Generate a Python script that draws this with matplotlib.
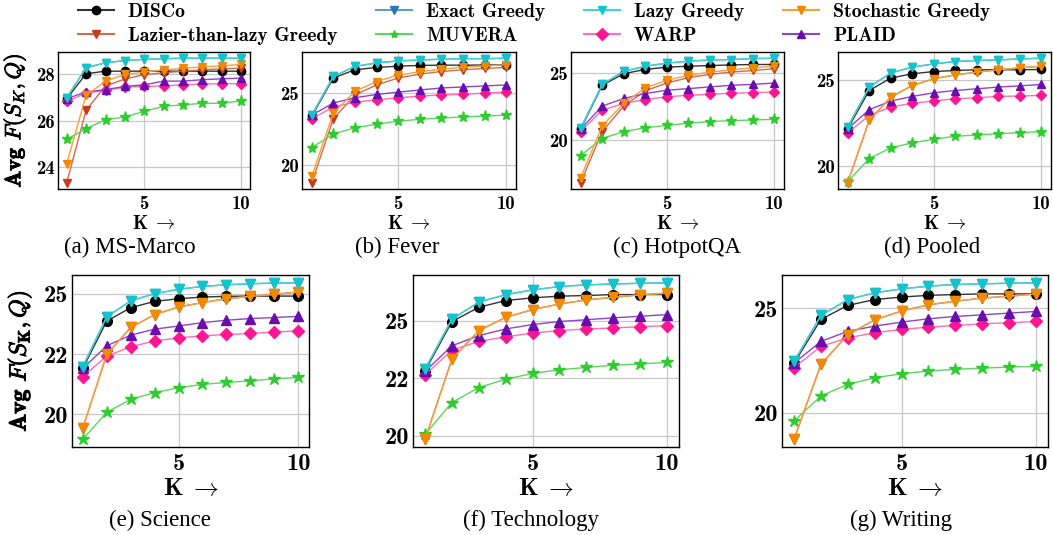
import numpy as np
import matplotlib.pyplot as plt
import matplotlib.patheffects as pe
from matplotlib.lines import Line2D

K = list(range(1, 11))

METHODS = ["DISCo", "Exact Greedy", "Lazier-than-lazy Greedy", "MUVERA",
           "WARP", "PLAID", "Stochastic Greedy", "Lazy Greedy"]
LEGEND_ORDER = ["DISCo", "Lazier-than-lazy Greedy", "Exact Greedy", "MUVERA",
                "Lazy Greedy", "WARP", "Stochastic Greedy", "PLAID"]

# values (Avg F(S_K, Q) for K = 1..10)
msmarco = {
    "DISCo":        [26.95, 28.03, 28.14, 28.14, 28.14, 28.14, 28.14, 28.14, 28.14, 28.14],
    "Exact Greedy": [26.99, 28.29, 28.50, 28.60, 28.65, 28.68, 28.70, 28.70, 28.70, 28.70],
    "Lazy Greedy":  [26.99, 28.29, 28.50, 28.60, 28.65, 28.68, 28.70, 28.70, 28.70, 28.70],
    "Stochastic Greedy":       [24.14, 27.10, 27.70, 28.00, 28.10, 28.20, 28.26, 28.33, 28.37, 28.43],
    "Lazier-than-lazy Greedy": [23.31, 26.45, 27.50, 27.80, 27.99, 28.07, 28.14, 28.20, 28.24, 28.27],
    "PLAID":  [26.95, 27.24, 27.34, 27.48, 27.55, 27.71, 27.71, 27.77, 27.81, 27.84],
    "WARP":   [26.83, 27.19, 27.31, 27.45, 27.48, 27.50, 27.55, 27.58, 27.60, 27.60],
    "MUVERA": [25.19, 25.65, 26.04, 26.16, 26.40, 26.62, 26.68, 26.75, 26.75, 26.86],
}
fever = {
    "DISCo":        [23.38, 26.03, 26.60, 26.76, 26.85, 26.90, 26.92, 26.92, 26.93, 26.94],
    "Exact Greedy": [23.45, 26.14, 26.83, 27.08, 27.21, 27.28, 27.33, 27.37, 27.37, 27.40],
    "Lazy Greedy":  [23.45, 26.14, 26.83, 27.08, 27.21, 27.28, 27.33, 27.37, 27.37, 27.40],
    "Stochastic Greedy":       [19.22, 23.60, 25.11, 25.78, 26.23, 26.46, 26.64, 26.78, 26.87, 26.94],
    "Lazier-than-lazy Greedy": [18.77, 23.20, 24.86, 25.55, 26.03, 26.30, 26.48, 26.60, 26.69, 26.76],
    "PLAID":  [23.45, 24.30, 24.66, 24.89, 25.05, 25.20, 25.34, 25.41, 25.48, 25.55],
    "WARP":   [23.20, 24.02, 24.36, 24.52, 24.66, 24.77, 24.86, 24.90, 24.98, 25.05],
    "MUVERA": [21.21, 22.15, 22.58, 22.83, 23.04, 23.17, 23.26, 23.33, 23.40, 23.45],
}
hotpotqa = {
    "DISCo":        [20.82, 24.11, 24.98, 25.30, 25.47, 25.54, 25.59, 25.64, 25.67, 25.67],
    "Exact Greedy": [20.89, 24.18, 25.15, 25.54, 25.77, 25.92, 26.01, 26.04, 26.11, 26.14],
    "Lazy Greedy":  [20.89, 24.18, 25.15, 25.54, 25.77, 25.92, 26.01, 26.04, 26.11, 26.14],
    "Stochastic Greedy":       [17.18, 21.06, 22.75, 23.91, 24.48, 24.85, 25.10, 25.27, 25.42, 25.54],
    "Lazier-than-lazy Greedy": [16.80, 20.64, 22.55, 23.69, 24.28, 24.68, 24.93, 25.10, 25.22, 25.35],
    "PLAID":  [20.82, 22.55, 23.12, 23.49, 23.74, 23.86, 23.99, 24.11, 24.18, 24.28],
    "WARP":   [20.64, 22.25, 22.75, 23.04, 23.24, 23.37, 23.44, 23.51, 23.56, 23.61],
    "MUVERA": [18.84, 20.12, 20.64, 20.92, 21.11, 21.26, 21.39, 21.46, 21.51, 21.56],
}
pooled = {
    "DISCo":        [22.17, 24.38, 25.10, 25.35, 25.48, 25.54, 25.58, 25.58, 25.58, 25.60],
    "Exact Greedy": [22.27, 24.58, 25.40, 25.73, 25.92, 26.06, 26.12, 26.15, 26.21, 26.25],
    "Lazy Greedy":  [22.27, 24.58, 25.40, 25.73, 25.92, 26.06, 26.12, 26.15, 26.21, 26.25],
    "Stochastic Greedy":       [19.04, 22.65, 24.00, 24.67, 25.06, 25.29, 25.44, 25.58, 25.69, 25.79],
    "Lazier-than-lazy Greedy": [19.04, 22.65, 24.00, 24.67, 25.06, 25.29, 25.44, 25.58, 25.69, 25.79],
    "PLAID":  [22.17, 23.27, 23.77, 24.04, 24.25, 24.38, 24.48, 24.58, 24.65, 24.73],
    "WARP":   [21.92, 22.94, 23.42, 23.65, 23.77, 23.90, 23.96, 24.04, 24.06, 24.10],
    "MUVERA": [19.10, 20.44, 21.06, 21.35, 21.56, 21.73, 21.81, 21.88, 21.94, 22.00],
}
science = {
    "DISCo":        [21.90, 23.86, 24.42, 24.68, 24.79, 24.86, 24.89, 24.90, 24.90, 24.90],
    "Exact Greedy": [21.97, 24.04, 24.70, 25.00, 25.18, 25.30, 25.37, 25.41, 25.44, 25.45],
    "Lazy Greedy":  [21.97, 24.04, 24.70, 25.00, 25.18, 25.30, 25.37, 25.41, 25.44, 25.45],
    "Stochastic Greedy":       [19.42, 22.48, 23.60, 24.13, 24.45, 24.63, 24.79, 24.89, 24.97, 25.07],
    "Lazier-than-lazy Greedy": [19.42, 22.48, 23.60, 24.13, 24.45, 24.63, 24.79, 24.89, 24.97, 25.07],
    "PLAID":  [21.90, 22.84, 23.28, 23.53, 23.66, 23.80, 23.90, 23.97, 24.01, 24.06],
    "WARP":   [21.56, 22.41, 22.80, 23.04, 23.17, 23.25, 23.31, 23.35, 23.41, 23.46],
    "MUVERA": [18.97, 20.08, 20.62, 20.90, 21.10, 21.24, 21.32, 21.39, 21.47, 21.53],
}
technology = {
    "DISCo":        [22.83, 24.96, 25.58, 25.87, 25.99, 26.06, 26.09, 26.13, 26.13, 26.13],
    "Exact Greedy": [22.90, 25.07, 25.80, 26.13, 26.33, 26.48, 26.55, 26.59, 26.62, 26.64],
    "Lazy Greedy":  [22.90, 25.07, 25.80, 26.13, 26.33, 26.48, 26.55, 26.59, 26.62, 26.64],
    "Stochastic Greedy":       [19.86, 23.33, 24.57, 25.14, 25.48, 25.72, 25.90, 26.01, 26.12, 26.19],
    "Lazier-than-lazy Greedy": [19.86, 23.33, 24.57, 25.14, 25.48, 25.72, 25.90, 26.01, 26.12, 26.19],
    "PLAID":  [22.80, 23.91, 24.35, 24.64, 24.83, 24.96, 25.04, 25.12, 25.19, 25.26],
    "WARP":   [22.65, 23.72, 24.10, 24.30, 24.46, 24.57, 24.64, 24.68, 24.74, 24.78],
    "MUVERA": [20.07, 21.45, 22.10, 22.46, 22.71, 22.87, 22.97, 23.07, 23.12, 23.19],
}
writing = {
    "DISCo":        [22.37, 24.46, 25.13, 25.41, 25.53, 25.61, 25.65, 25.68, 25.68, 25.68],
    "Exact Greedy": [22.45, 24.65, 25.41, 25.73, 25.92, 26.05, 26.13, 26.16, 26.19, 26.21],
    "Lazy Greedy":  [22.45, 24.65, 25.41, 25.73, 25.92, 26.05, 26.13, 26.16, 26.19, 26.21],
    "Stochastic Greedy":       [18.73, 22.31, 23.73, 24.44, 24.86, 25.16, 25.33, 25.48, 25.57, 25.68],
    "Lazier-than-lazy Greedy": [18.73, 22.31, 23.73, 24.44, 24.86, 25.16, 25.33, 25.48, 25.57, 25.68],
    "PLAID":  [22.37, 23.41, 23.89, 24.14, 24.33, 24.49, 24.60, 24.68, 24.76, 24.84],
    "WARP":   [22.15, 23.17, 23.58, 23.82, 23.98, 24.09, 24.17, 24.25, 24.30, 24.36],
    "MUVERA": [19.60, 20.80, 21.35, 21.67, 21.86, 21.99, 22.07, 22.13, 22.18, 22.21],
}

# (line colour, marker colour, marker)
STYLE = {
    "DISCo":                   ("#333333", "#000000", "o"),
    "Exact Greedy":            ("#5a9dc6", "#2b78ab", "v"),
    "Lazy Greedy":             ("#3fd3d3", "#14c4cc", "v"),
    "Stochastic Greedy":       ("#f4a23a", "#f08a00", "v"),
    "Lazier-than-lazy Greedy": ("#d46a4c", "#c23b22", "v"),
    "MUVERA":                  ("#5cd65c", "#2ecc2e", "*"),
    "WARP":                    ("#ff6eb4", "#ff1493", "D"),
    "PLAID":                   ("#8e44cc", "#6a0dad", "^"),
}

W, H = 1053, 535
# (data, caption, yticks, yticklabels, axes box px (x0, y0, x1, y1), caption centre px, row)
PANELS = [
    (msmarco, "(a) MS-Marco", [24, 26, 28], ["24", "26", "28"], (58, 52, 250, 189), (130, 247), 0),
    (fever, "(b) Fever", [20, 25], ["20", "25"], (302, 52, 516, 189), (397, 247), 0),
    (hotpotqa, "(c) HotpotQA", [20, 25], ["20", "25"], (571, 52, 784, 189), (677, 247), 0),
    (pooled, "(d) Pooled", [20, 25], ["20", "25"], (838, 52, 1051, 189), (932, 247), 0),
    (science, "(e) Science", [20, 22.5, 25], ["20", "22", "25"], (72, 275, 309, 447), (160, 520), 1),
    (technology, "(f) Technology", [20, 22.5, 25], ["20", "22", "25"], (413, 275, 679, 447), (531, 520), 1),
    (writing, "(g) Writing", [20, 25], ["20", "25"], (782, 275, 1048, 447), (901, 520), 1),
]

plt.rcParams["mathtext.fontset"] = "cm"
plt.rcParams["axes.unicode_minus"] = False

fig = plt.figure(figsize=(W / 100, H / 100), dpi=100)

for data, cap, yt, ytl, (x0, y0, x1, y1), (cx, cy), row in PANELS:
    ax = fig.add_axes([x0 / W, 1 - y1 / H, (x1 - x0) / W, (y1 - y0) / H])
    ms = 6 if row == 0 else 7
    tfs = 13.5 if row == 0 else 17.5
    for m in METHODS:
        lc, mc, mk = STYLE[m]
        msz = ms + 2 if mk == "*" else (ms - 0.5 if mk == "D" else ms)
        ax.plot(K, data[m], color=lc, lw=1.0, marker=mk, ms=msz,
                markerfacecolor=mc, markeredgecolor=mc, label=m)
    ax.set_xticks([5, 10])
    ax.set_yticks(yt)
    ax.set_yticklabels(ytl)
    ax.grid(True, color="#c8c8c8", lw=0.9)
    ax.set_axisbelow(True)
    ax.tick_params(length=0, pad=4, labelsize=tfs)
    ax.tick_params(axis="y", pad=2.5)
    for lab in ax.get_xticklabels() + ax.get_yticklabels():
        lab.set_family("cmb10")
    for s in ax.spines.values():
        s.set_linewidth(1.0)
    ax.set_xlabel(r"$\mathbf{K}\;\rightarrow$",
                  fontsize=14 if row == 0 else 18, labelpad=1)
    fig.text(cx / W, 1 - cy / H, cap, ha="center", va="center",
             family="Liberation Serif", fontsize=16.5)
    if cap.startswith("(a)"):
        ax.set_ylabel(r"Avg $F(S_K,Q)$", family="cmb10", fontsize=16,
                      path_effects=[pe.withStroke(linewidth=0.6, foreground="black")])
        ax.yaxis.set_label_coords(-0.155, 0.5)
    if cap.startswith("(e)"):
        ax.set_ylabel(r"Avg $F(S_{\mathbf{K}},Q)$", family="cmb10", fontsize=17,
                      path_effects=[pe.withStroke(linewidth=0.7, foreground="black")])
        ax.yaxis.set_label_coords(-0.16, 0.5)

handles = []
for m in LEGEND_ORDER:
    lc, mc, mk = STYLE[m]
    handles.append(Line2D([], [], color=lc, lw=1.5, marker=mk, ms=6,
                          markerfacecolor=mc, markeredgecolor=mc))
fig.legend(handles, LEGEND_ORDER, ncol=4, loc="upper center",
           bbox_to_anchor=(0.507, 1.016), frameon=False,
           prop={"family": "cmb10", "size": 14.2}, handlelength=1.85,
           handletextpad=0.7, columnspacing=1.95, labelspacing=0.28,
           borderpad=0.1)

plt.savefig("out.png", dpi=100)
